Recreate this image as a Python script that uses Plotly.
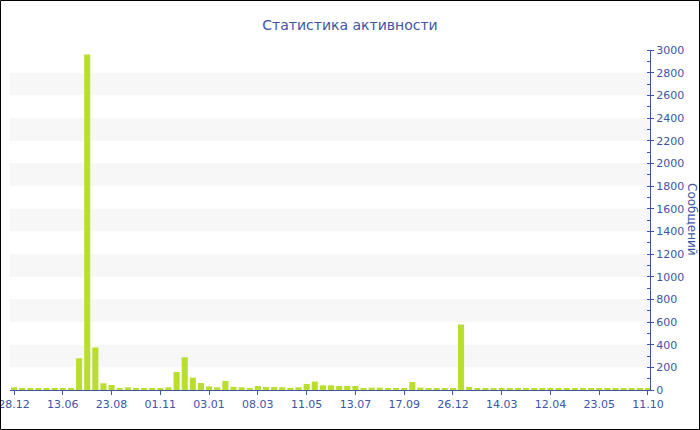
import plotly.graph_objects as go

# Message counts per period (bar order left to right)
messages = [
    24, 15, 15, 12, 15, 15, 15, 15, 280, 2960,
    375, 59, 44, 18, 24, 18, 18, 18, 18, 24,
    159, 289, 109, 62, 32, 24, 80, 28, 24, 18,
    35, 27, 27, 24, 18, 24, 53, 74, 41, 41,
    35, 35, 35, 18, 21, 21, 18, 18, 18, 71,
    21, 18, 15, 18, 18, 578, 27, 10, 9, 10,
    9, 10, 12, 10, 12, 12, 12, 10, 12, 10,
    10, 9, 10, 10, 10, 9, 9, 9, 10,
]

# Date labels shown on every sixth bar
date_labels = ["28.12", "13.06", "23.08", "01.11", "03.01", "08.03", "11.05",
               "13.07", "17.09", "26.12", "14.03", "12.04", "23.05", "11.10"]
label_step = 6

title_text = "Статистика активности"
y_title = "Сообщений"

blue = "#3d55a3"
bar_color = "#bade2e"
font_family = "DejaVu Sans, Verdana, sans-serif"

x_idx = list(range(len(messages)))
tick_positions = x_idx[::label_step]

fig = go.Figure(
    go.Bar(
        x=x_idx,
        y=messages,
        marker=dict(color=bar_color, line=dict(width=0)),
        hoverinfo="y",
    )
)

# Alternating horizontal bands behind the bars
shapes = []
for lo in range(200, 3000, 400):
    shapes.append(dict(
        type="rect", xref="paper", yref="y", x0=0, x1=1, y0=lo, y1=lo + 200,
        fillcolor="#f7f7f7", line=dict(width=0), layer="below",
    ))

# Outer frame around the whole figure
W, H = 700, 430
ml, mr, mt, mb = 10, 50, 50, 40
pw, ph = W - ml - mr, H - mt - mb
shapes.append(dict(
    type="rect", xref="paper", yref="paper",
    x0=(0.5 - ml) / pw, x1=(W - 0.5 - ml) / pw,
    y0=(-(mb) + 0.5) / ph, y1=(ph + mt - 0.5) / ph,
    line=dict(color="black", width=1), fillcolor="rgba(0,0,0,0)",
))

fig.update_layout(
    width=W, height=H,
    margin=dict(l=ml, r=mr, t=mt, b=mb, autoexpand=False),
    paper_bgcolor="white", plot_bgcolor="white",
    bargap=0.25,
    showlegend=False,
    font=dict(family=font_family, size=11, color=blue),
    title=dict(text=title_text, x=0.5, xref="container", xanchor="center",
               y=1 - 25 / H, yref="container", yanchor="middle",
               font=dict(family=font_family, size=14, color=blue)),
    shapes=shapes,
    annotations=[dict(
        text=y_title, xref="paper", yref="paper",
        x=(692 - ml) / pw, y=(390 - 219) / ph,
        xanchor="center", yanchor="middle", textangle=90,
        showarrow=False, font=dict(family=font_family, size=12, color=blue),
    )],
)

fig.update_xaxes(
    range=[-0.5, len(messages) - 0.75],
    automargin=False,
    tickmode="array", tickvals=tick_positions, ticktext=date_labels,
    ticks="outside", ticklen=4, tickcolor=blue,
    ticklabeloverflow="allow",
    showline=True, linecolor=blue, linewidth=1,
    showgrid=False, zeroline=False,
    tickfont=dict(family=font_family, size=11, color=blue),
)

fig.update_yaxes(
    side="right",
    range=[0, 3000],
    automargin=False,
    tick0=0, dtick=200,
    ticks="outside", ticklen=3, tickcolor=blue,
    ticklabeloverflow="allow",
    minor=dict(dtick=100, ticks="inside", ticklen=3, tickcolor=blue, showgrid=False),
    showline=True, linecolor=blue, linewidth=1,
    showgrid=False, zeroline=False,
    tickfont=dict(family=font_family, size=11, color=blue),
)

fig.write_html("out.html")
